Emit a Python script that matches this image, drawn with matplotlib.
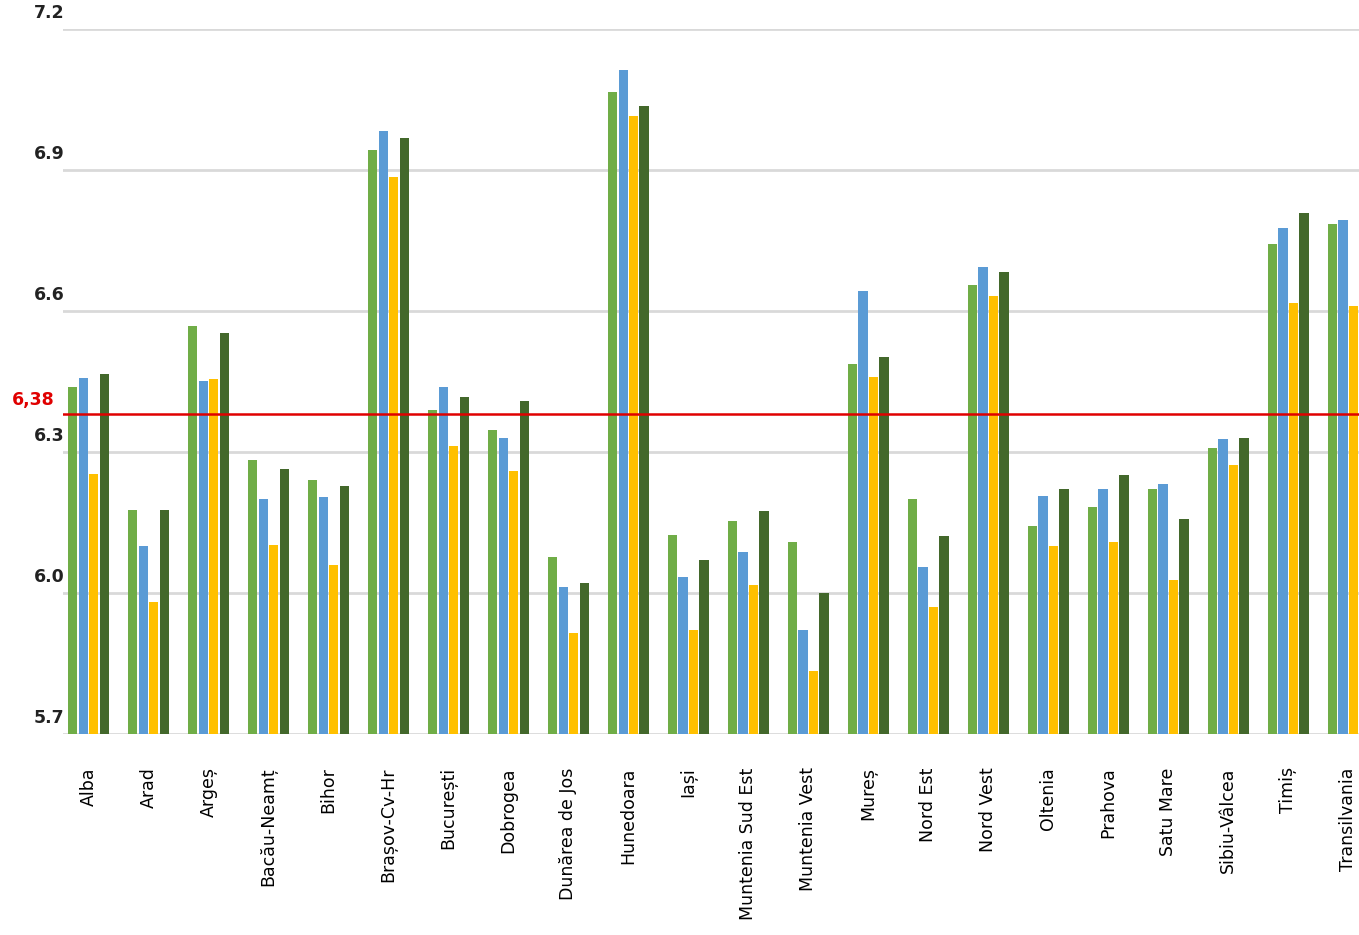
import matplotlib
matplotlib.use("Agg")
import matplotlib.pyplot as plt
import numpy as np

categories = ["Alba","Arad","Argeș","Bacău-Neamț","Bihor","Brașov-Cv-Hr","București","Dobrogea",
              "Dunărea de Jos","Hunedoara","Iași","Muntenia Sud Est","Muntenia Vest","Mureș",
              "Nord Est","Nord Vest","Oltenia","Prahova","Satu Mare","Sibiu-Vâlcea","Timiș","Transilvania"]
s1 = [6.438,6.177,6.568,6.283,6.240,6.943,6.389,6.347,6.077,7.066,6.123,6.153,6.109,6.487,6.200,6.655,6.143,6.183,6.221,6.309,6.743,6.785]
s2 = [6.457,6.100,6.451,6.200,6.204,6.983,6.438,6.330,6.013,7.113,6.034,6.087,5.921,6.643,6.055,6.694,6.206,6.221,6.232,6.328,6.777,6.794]
s3 = [6.253,5.981,6.455,6.102,6.060,6.885,6.313,6.260,5.915,7.015,5.921,6.017,5.834,6.460,5.970,6.632,6.100,6.109,6.028,6.272,6.617,6.611]
s4 = [6.466,6.177,6.553,6.264,6.228,6.968,6.417,6.409,6.021,7.036,6.070,6.174,6.000,6.502,6.121,6.683,6.221,6.251,6.157,6.330,6.809,np.nan]
yticks = [5.7,6.0,6.3,6.6,6.9,7.2]
ref_value = 6.38
colors = ["#70AD47","#5B9BD5","#FFC000","#43682B"]

fig = plt.figure(figsize=(13.59,9.35), dpi=100)
ax = fig.add_axes([0.046,0.215,0.954,0.754])
x = np.arange(len(categories))
step, w = 0.175, 0.155
base = 5.7
for i,(s,c) in enumerate(zip([s1,s2,s3,s4],colors)):
    vals = np.array(s,dtype=float)
    ax.bar(x + (i-1.5)*step, vals-base, w, bottom=base, color=c, zorder=3)
ax.set_ylim(5.7,7.2)
ax.set_xlim(-0.434,21.18)
for t in yticks:
    ax.axhline(t, color="#d9d9d9", lw=2, zorder=1)
    ax.text(-0.022, t+0.015, f"{t:.1f}", transform=ax.get_yaxis_transform(), ha="left", va="bottom",
            fontsize=12.5, fontweight="bold", color="#222222")
ax.axhline(ref_value, color="#e00000", lw=1.8, zorder=4)
ax.text(-0.039, ref_value+0.012, "6,38", transform=ax.get_yaxis_transform(), ha="left", va="bottom",
        fontsize=12.5, fontweight="bold", color="#e00000")
ax.set_yticks([])
ax.set_xticks(x)
ax.set_xticklabels(categories, rotation=90, fontsize=12.5)
ax.tick_params(axis="x", length=0, pad=24)
for sp in ax.spines.values():
    sp.set_visible(False)
fig.savefig("out.png", dpi=100)
